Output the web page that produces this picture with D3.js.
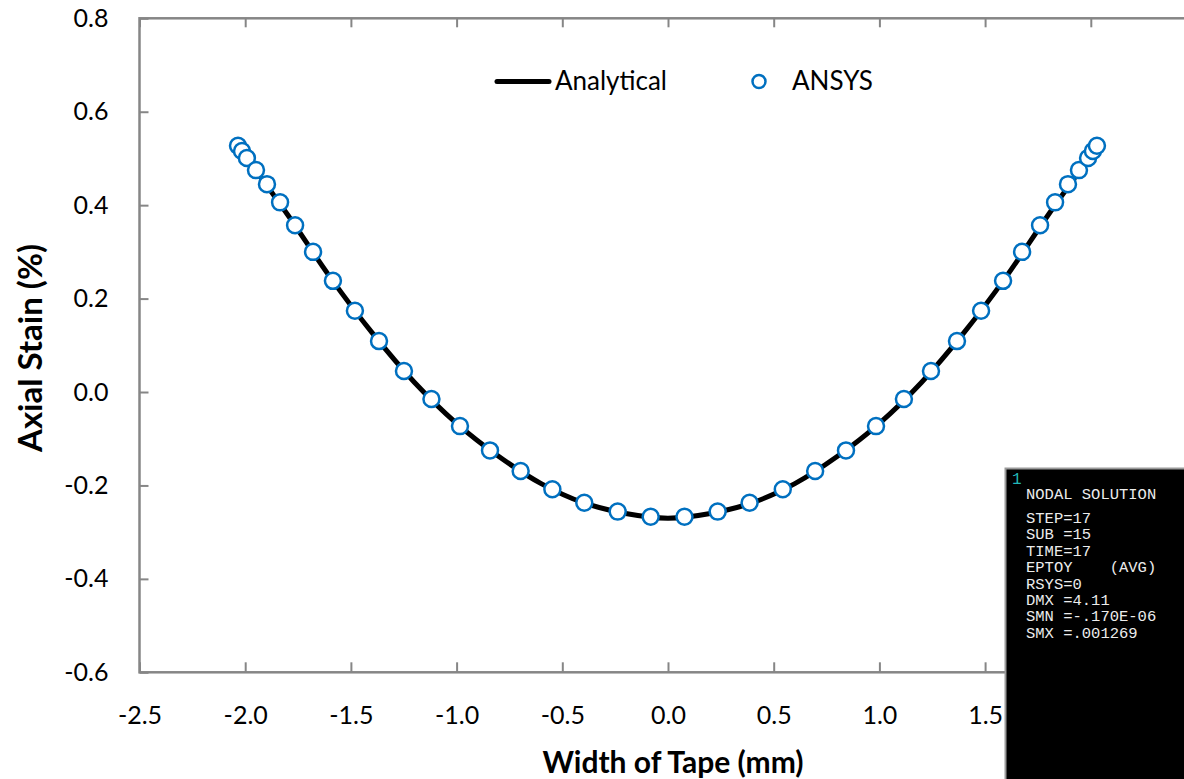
<!DOCTYPE html>
<html>
<head>
<meta charset="utf-8">
<script src="https://cdn.jsdelivr.net/npm/d3@7/dist/d3.min.js"></script>
<style>
  html, body { margin: 0; padding: 0; background: #fff; }
  svg { display: block; }
</style>
</head>
<body>
<div id="chart"></div>
<script>
// Axial strain across the tape width: ANSYS nodal results vs analytical curve
const ansysX = [-2.034, -2.015, -1.992, -1.949, -1.897, -1.835, -1.764, -1.679, -1.585, -1.481,
                -1.367, -1.249, -1.119, -0.984, -0.842, -0.697, -0.547, -0.396, -0.238, -0.082,
                 0.078,  0.235,  0.386,  0.543,  0.696,  0.842,  0.984,  1.116,  1.244,  1.367,
                 1.481,  1.585,  1.675,  1.760,  1.831,  1.892,  1.944,  1.987,  2.010,  2.029];
const ansysY = [ 0.527,  0.516,  0.501,  0.475,  0.445,  0.406,  0.357,  0.300,  0.238,  0.174,
                 0.109,  0.045, -0.015, -0.073, -0.125, -0.169, -0.208, -0.237, -0.256, -0.267,
                -0.267, -0.256, -0.237, -0.208, -0.169, -0.125, -0.073, -0.015,  0.045,  0.109,
                 0.174,  0.238,  0.300,  0.357,  0.406,  0.445,  0.475,  0.501,  0.516,  0.527];

const analyticalX = [-2.03, -1.8, -1.6, -1.4, -1.2, -1.0, -0.8, -0.6, -0.4, -0.2, 0.0,
                      0.2,  0.4,  0.6,  0.8,  1.0,  1.2,  1.4,  1.6,  1.8, 2.03];
const analyticalY = [0.525, 0.380, 0.247, 0.127, 0.021, -0.067, -0.138, -0.196, -0.237, -0.260, -0.270,
                     -0.260, -0.237, -0.196, -0.138, -0.067, 0.021, 0.127, 0.247, 0.380, 0.525];

const xTicks = [-2.5, -2.0, -1.5, -1.0, -0.5, 0.0, 0.5, 1.0, 1.5, 2.0, 2.5];
const xTickLabels = ["-2.5", "-2.0", "-1.5", "-1.0", "-0.5", "0.0", "0.5", "1.0", "1.5", "", ""];
const yTicks = [-0.6, -0.4, -0.2, 0.0, 0.2, 0.4, 0.6, 0.8];
const yTickLabels = ["-0.6", "-0.4", "-0.2", "0.0", "0.2", "0.4", "0.6", "0.8"];

const seriesNames = ["Analytical", "ANSYS"];
const ansysInfo = ["NODAL SOLUTION", "", "STEP=17", "SUB =15", "TIME=17", "EPTOY    (AVG)",
                   "RSYS=0", "DMX =4.11", "SMN =-.170E-06", "SMX =.001269"];

const W = 1184, H = 779;
const font = "Lato, 'Open Sans', sans-serif";
const mono = "'Liberation Mono', 'DejaVu Sans Mono', monospace";
const axisGray = "#868686";
const blue = "#0070C0";

const svg = d3.select("#chart").append("svg")
  .attr("width", W).attr("height", H)
  .style("background", "#fff");

const x = d3.scaleLinear().domain([-2.5, 2.5]).range([139.5, 1196.5]);
const y = d3.scaleLinear().domain([-0.6, 0.8]).range([672.3, 18.3]);

// Frame (right edge falls outside the view)
svg.append("rect")
  .attr("x", x(-2.5)).attr("y", y(0.8))
  .attr("width", x(2.5) - x(-2.5)).attr("height", y(-0.6) - y(0.8))
  .attr("fill", "none").attr("stroke", axisGray).attr("stroke-width", 2.5);

// Bottom axis with inward ticks
const xAxis = d3.axisBottom(x).tickValues(xTicks).tickSizeInner(-10).tickSizeOuter(0)
  .tickPadding(34).tickFormat((d, i) => xTickLabels[i]);
const gx = svg.append("g").attr("transform", `translate(0,${y(-0.6)})`).call(xAxis);
gx.select(".domain").remove();
gx.selectAll(".tick line").attr("stroke", axisGray).attr("stroke-width", 2);
gx.selectAll(".tick text").attr("font-family", font).attr("font-size", 25).attr("fill", "#000")
  .attr("dy", "0.71em");

// Top mirrored ticks
const gxt = svg.append("g").attr("transform", `translate(0,${y(0.8)})`)
  .call(d3.axisTop(x).tickValues(xTicks).tickSizeInner(-9).tickSizeOuter(0).tickFormat(""));
gxt.select(".domain").remove();
gxt.selectAll(".tick line").attr("stroke", axisGray).attr("stroke-width", 2);

// Left axis with inward ticks
const yAxis = d3.axisLeft(y).tickValues(yTicks).tickSizeInner(-9).tickSizeOuter(0)
  .tickPadding(31).tickFormat((d, i) => yTickLabels[i]);
const gy = svg.append("g").attr("transform", `translate(${x(-2.5)},0)`).call(yAxis);
gy.select(".domain").remove();
gy.selectAll(".tick line").attr("stroke", axisGray).attr("stroke-width", 2);
gy.selectAll(".tick text").attr("font-family", font).attr("font-size", 25).attr("fill", "#000");

// Axis titles
svg.append("text")
  .attr("transform", `translate(42,348) rotate(-90)`)
  .attr("text-anchor", "middle")
  .attr("font-family", font).attr("font-weight", "bold").attr("font-size", 33)
  .text("Axial Stain (%)");
svg.append("text")
  .attr("x", 673).attr("y", 773)
  .attr("text-anchor", "middle")
  .attr("font-family", font).attr("font-weight", "bold").attr("font-size", 30)
  .text("Width of Tape (mm)");

// Analytical curve
const analytical = analyticalX.map((v, i) => [v, analyticalY[i]]);
svg.append("path")
  .datum(analytical)
  .attr("d", d3.line().x(d => x(d[0])).y(d => y(d[1])).curve(d3.curveCatmullRom))
  .attr("fill", "none").attr("stroke", "#000").attr("stroke-width", 5)
  .attr("stroke-linejoin", "round");

// ANSYS nodal points
const ansys = ansysX.map((v, i) => [v, ansysY[i]]);
svg.append("g").selectAll("circle")
  .data(ansys).join("circle")
  .attr("cx", d => x(d[0])).attr("cy", d => y(d[1]))
  .attr("r", 8)
  .attr("fill", "#fff").attr("stroke", blue).attr("stroke-width", 2.5);

// Legend
const lg = svg.append("g");
lg.append("line").attr("x1", 497).attr("x2", 549).attr("y1", 81.5).attr("y2", 81.5)
  .attr("stroke", "#000").attr("stroke-width", 5).attr("stroke-linecap", "round");
lg.append("text").attr("x", 555).attr("y", 89.5)
  .attr("font-family", font).attr("font-size", 26).text(seriesNames[0]);
lg.append("circle").attr("cx", 759).attr("cy", 81.5).attr("r", 6.5)
  .attr("fill", "#fff").attr("stroke", blue).attr("stroke-width", 2.5);
lg.append("text").attr("x", 792).attr("y", 89.5)
  .attr("font-family", font).attr("font-size", 26).text(seriesNames[1]);

// ANSYS result panel overlay
const panel = svg.append("g");
panel.append("rect").attr("x", 1005.5).attr("y", 468.5).attr("width", 200).attr("height", 330)
  .attr("fill", "#000").attr("stroke", "#9a9a9a").attr("stroke-width", 2);
panel.append("text").attr("x", 1012).attr("y", 484)
  .attr("font-family", mono).attr("font-size", 16)
  .attr("fill", "#22b8b8").text("1");
panel.selectAll("text.info").data(ansysInfo).join("text")
  .attr("class", "info")
  .attr("x", 1026)
  .attr("y", (d, i) => i === 0 ? 499.3 : 523 + (i - 2) * 16.4)
  .attr("font-family", mono)
  .attr("font-size", 15.5)
  .attr("fill", "#ececec")
  .attr("xml:space", "preserve")
  .style("white-space", "pre")
  .text(d => d);
</script>
</body>
</html>
